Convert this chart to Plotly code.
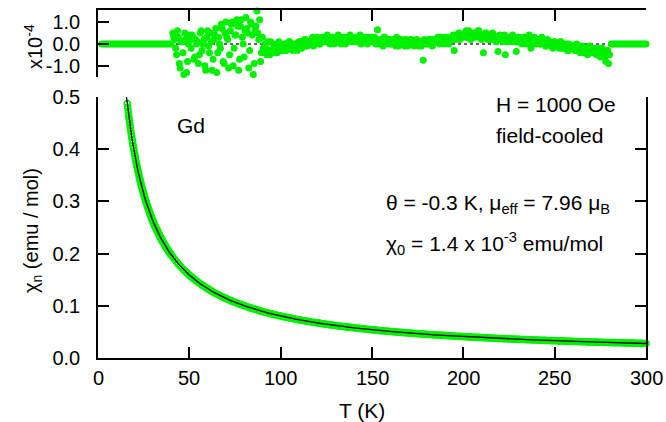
import numpy as np
import plotly.graph_objects as go

# ---- fit parameters (from the annotation) ----
theta = -0.3          # K
mu_eff = 7.96         # mu_B
chi0 = 1.4e-3         # emu/mol
C = mu_eff ** 2 / 7.997

# ---- axis ticks ----
x_ticks = [0, 50, 100, 150, 200, 250, 300]
x_ticklabels = ["0", "50", "100", "150", "200", "250", "300"]
y_ticks = [0, 0.1, 0.2, 0.3, 0.4, 0.5]
y_ticklabels = ["0.0", "0.1", "0.2", "0.3", "0.4", "0.5"]

# ---- residuals (x1e-4 emu/mol) ----
resid_T_low = list(range(2, 41))          # outside fit range -> 0
resid_low = [0.0] * len(resid_T_low)
resid_T_mid = list(range(41, 281))
resid_mid = [
    # 41-90
    0.5, 0.2, -0.5, 0.3, -1.1, 0.1, -1.4, 0.2, -0.8, 0.4,
    -0.2, 0.3, -0.6, 0.0, -0.9, 0.5, -0.3, 0.2, -1.2, 0.6,
    -0.4, 0.1, -0.7, 0.4, -1.3, 0.3, -0.2, 0.7, -0.9, 1.0,
    0.2, -0.5, 0.9, -1.0, 0.4, 1.1, -1.2, 0.8, 0.3, -0.6,
    1.2, 0.5, -0.3, 0.9, -1.4, 0.6, 1.5, 0.2, -0.8, 0.3,
    # 91-100
    -0.4, -0.2, 0.1, -0.5, -0.3, 0.0, -0.2, -0.4, 0.1, -0.3,
    # 101-150
    -0.2, 0.0, -0.3, -0.1, 0.1, -0.2, -0.1, 0.0, -0.3, 0.1,
    -0.1, 0.0, 0.2, -0.1, 0.1, 0.0, 0.2, -0.1, 0.1, 0.3,
    0.0, 0.2, 0.1, 0.3, 0.1, 0.2, 0.0, 0.3, 0.2, 0.1,
    0.3, 0.2, 0.0, 0.2, 0.3, 0.1, 0.2, 0.4, 0.1, 0.2,
    0.3, 0.1, 0.2, 0.0, 0.3, 0.2, 0.1, 0.3, 0.2, 0.1,
    # 151-200
    0.2, 0.0, 0.65, 0.1, 0.2, -0.1, 0.3, 0.1, 0.2, 0.0,
    0.1, 0.2, -0.1, 0.1, 0.0, 0.2, 0.1, -0.1, 0.1, 0.0,
    0.2, 0.1, -0.1, 0.1, 0.0, 0.1, -0.1, -0.75, 0.1, 0.0,
    0.2, 0.1, -0.1, 0.2, 0.1, 0.3, 0.0, 0.2, 0.1, 0.3,
    0.2, 0.0, 0.3, 0.2, -0.3, 0.4, 0.3, 0.2, 0.4, 0.3,
    # 201-250
    0.5, 0.3, 0.6, 0.2, 0.4, 0.5, 0.3, 0.6, 0.4, 0.2,
    -0.4, 0.5, 0.3, 0.4, 0.2, 0.5, 0.3, 0.1, -0.35, 0.4,
    0.2, 0.3, -0.5, 0.1, 0.3, 0.2, 0.4, 0.1, -0.35, 0.3,
    0.2, 0.0, 0.3, 0.2, 0.1, 0.4, -0.2, 0.2, 0.3, 0.1,
    0.2, 0.0, 0.3, 0.1, -0.1, 0.2, 0.0, 0.1, -0.2, 0.1,
    # 251-280
    0.0, -0.1, 0.1, -0.2, 0.0, -0.1, -0.3, 0.0, -0.2, -0.1,
    -0.3, 0.0, -0.2, -0.4, -0.1, -0.3, -0.2, -0.5, -0.1, -0.3,
    -0.4, -0.2, -0.5, -0.3, -0.6, -0.2, -0.4, -0.8, -0.3, -0.5,
]
# intermediate readings (half-kelvin points), 41.5 ... 279.5 K
resid_T_half = [41.5 + i for i in range(239)]
resid_half = [
    # 41.5-89.5
    0.3, -0.2, 0.6, -0.9, 0.1, -0.4, 0.5, -1.3, 0.0, 0.2,
    0.4, -0.7, 0.2, 0.1, -0.5, 0.6, 0.0, -1.0, 0.3, -0.1,
    0.5, -1.2, 0.2, 0.7, -0.4, 0.0, 0.9, -0.8, 0.5, 0.3,
    -1.1, 0.6, 1.0, -0.2, 0.4, 0.8, -0.7, 1.1, 0.0, 0.6,
    0.7, -1.1, 1.0, 0.4, -0.9, 0.8, 0.5, 1.1, -0.4,
    # 90.5-99.5
    -0.2, 0.0, -0.5, -0.3, 0.1, -0.4, -0.2, -0.1, -0.3, 0.0,
    # 100.5-279.5
    -0.1, -0.3, 0.0, -0.2, 0.1, -0.1, -0.3, 0.0, -0.2, 0.0,
    0.1, -0.2, 0.0, 0.2, -0.1, 0.1, 0.0, 0.3, 0.1, 0.2,
    0.2, 0.0, 0.3, 0.1, 0.2, 0.4, 0.1, 0.2, 0.3, 0.0,
    0.2, 0.4, 0.1, 0.3, 0.2, 0.0, 0.3, 0.2, 0.3, 0.1,
    0.2, 0.3, 0.1, 0.4, 0.2, 0.1, 0.3, 0.0, 0.2, 0.3,
    0.1, 0.3, 0.2, 0.0, 0.2, 0.1, 0.3, 0.0, 0.1, 0.2,
    0.0, 0.2, 0.1, 0.3, -0.1, 0.2, 0.0, 0.1, 0.2, -0.1,
    0.1, 0.2, 0.0, 0.1, 0.2, -0.1, 0.1, 0.0, 0.2, 0.1,
    0.0, 0.1, 0.2, 0.0, 0.1, 0.2, 0.1, 0.3, 0.2, 0.0,
    0.2, 0.3, 0.1, 0.3, 0.4, 0.2, 0.3, 0.5, 0.3, 0.4,
    0.4, 0.6, 0.3, 0.5, 0.4, 0.3, 0.5, 0.4, 0.6, 0.3,
    0.4, 0.3, 0.5, 0.2, 0.4, 0.3, 0.4, 0.2, 0.3, 0.2,
    0.3, 0.1, 0.4, 0.2, 0.2, 0.3, 0.1, 0.3, 0.2, 0.1,
    0.3, 0.1, 0.2, 0.3, 0.0, 0.2, 0.3, 0.1, 0.2, 0.0,
    0.1, 0.2, 0.0, 0.2, 0.1, -0.1, 0.1, 0.0, -0.1, 0.1,
    -0.1, 0.0, -0.2, 0.1, -0.1, -0.2, 0.0, -0.3, -0.1, -0.2,
    -0.1, -0.3, -0.2, -0.1, -0.3, -0.2, -0.4, -0.2, -0.3, -0.4,
    -0.2, -0.4, -0.3, -0.5, -0.2, -0.4, -0.3, -0.6, -0.4, -0.9,
]
resid_T_high = list(range(281, 301))
resid_high = [0.0] * len(resid_T_high)

resid_T = resid_T_low + resid_T_mid + resid_T_half + resid_T_high
resid = resid_low + resid_mid + resid_half + resid_high
resid_lookup = dict(zip(resid_T_low + resid_T_mid + resid_T_high, resid_low + resid_mid + resid_high))

# ---- measured temperatures (main panel) ----
T_meas = np.concatenate([np.arange(16.0, 40.0, 0.25), np.arange(40.0, 301.0, 1.0)])


def curie_weiss(T):
    return C / (np.asarray(T) - theta) + chi0


# measured chi = fit + residual (residual shown x1e-4 in the top panel)
chi_meas = curie_weiss(T_meas) + np.array([resid_lookup.get(int(t), 0.0) if float(t).is_integer() else 0.0
                                            for t in T_meas]) * 1e-4

T_fit = np.linspace(15.5, 300, 600)
chi_fit = curie_weiss(T_fit)

GREEN = "#00f000"
FONT = "Liberation Sans, Arial, sans-serif"
TICK = 20
ANN = 21

fig = go.Figure()

# top panel: zero reference + residuals
fig.add_trace(go.Scatter(x=[0, 300], y=[0, 0], mode="lines", xaxis="x2", yaxis="y2",
                         line=dict(color="#333333", width=1.5, dash="dot"), showlegend=False))
fig.add_trace(go.Scatter(x=resid_T, y=resid, mode="markers", xaxis="x2", yaxis="y2",
                         marker=dict(color=GREEN, size=7, line=dict(width=0)),
                         cliponaxis=False, showlegend=False))

# main panel
fig.add_trace(go.Scatter(x=T_meas, y=chi_meas, mode="markers", xaxis="x", yaxis="y",
                         marker=dict(symbol="circle-open", color=GREEN, size=6,
                                     line=dict(color=GREEN, width=1.6)),
                         cliponaxis=False, showlegend=False))
fig.add_trace(go.Scatter(x=T_fit, y=chi_fit, mode="lines", xaxis="x", yaxis="y",
                         line=dict(color="black", width=1.3), showlegend=False))

axis_common = dict(showgrid=False, zeroline=False, showline=True, linecolor="black",
                   linewidth=1.5, ticks="inside", tickcolor="black", tickwidth=1.5, ticklen=11,
                   automargin=False,
                   tickfont=dict(family=FONT, size=TICK, color="black"))

fig.update_layout(
    width=666, height=422,
    margin=dict(l=98, r=20, t=10, b=64, autoexpand=False),
    paper_bgcolor="white", plot_bgcolor="white",
    font=dict(family=FONT, color="black", size=TICK),
    xaxis=dict(axis_common, domain=[0, 1], range=[0, 300], tickvals=x_ticks,
               showticklabels=False, anchor="y"),
    yaxis=dict(axis_common, domain=[0, 0.75], range=[0, 0.5],
               tickvals=y_ticks, ticktext=y_ticklabels,
               mirror="ticks", anchor="x", ticklabelstandoff=12),
    xaxis2=dict(axis_common, domain=[0, 1], range=[0, 300], side="top", anchor="y2",
                tickvals=x_ticks[1:-1], showticklabels=False),
    yaxis2=dict(axis_common, domain=[0.8075, 1.0], range=[-1.51, 1.545], anchor="x2",
                tickvals=[-1.5, -1, 0, 1], ticktext=["", "-1.0", "0.0", "1.0"],
                ticklabelstandoff=12),
    yaxis3=dict(axis_common, domain=[0.8075, 1.0], range=[-1.51, 1.545], anchor="x2",
                overlaying="y2", side="right",
                tickvals=[-1.5, -1, -0.5, 0, 0.5, 1, 1.5], showticklabels=False),
)


def px(xp):
    return (xp - 98) / 548


def py(yp):
    return (358 - yp) / 348


ann_font = dict(family=FONT, size=ANN, color="black")
annotations = [
    dict(text="Gd", x=px(175), y=py(125), xanchor="left"),
    dict(text="H = 1000 Oe", x=px(494), y=py(105), xanchor="left"),
    dict(text="field-cooled", x=px(494), y=py(135), xanchor="left"),
    dict(text="θ = -0.3 K, μ<sub>eff</sub> = 7.96 μ<sub>B</sub>", x=px(384), y=py(204), xanchor="left"),
    dict(text="χ<sub>0</sub> = 1.4 x 10<sup>-3</sup> emu/mol", x=px(384), y=py(243), xanchor="left"),
    dict(text="T (K)", x=px(362), y=py(410), xanchor="center"),
    dict(text="χ<sub>n</sub> (emu / mol)", x=px(33), y=py(231), xanchor="center", textangle=-90,
         font=dict(family=FONT, size=20, color="black")),
    dict(text="x10<sup>-4</sup>", x=px(33), y=py(47), xanchor="center", textangle=-90,
         font=dict(family=FONT, size=20, color="black")),
]
anns = []
for a in annotations:
    base = dict(xref="paper", yref="paper", yanchor="middle", showarrow=False, font=ann_font)
    base.update(a)
    anns.append(base)

# x tick labels of the main panel (placed just under the axis)
for v, lab in zip(x_ticks, x_ticklabels):
    anns.append(dict(text=lab, x=v, xref="x", y=0, yref="paper", yanchor="top", xanchor="center",
                     yshift=-7, showarrow=False, font=dict(family=FONT, size=TICK, color="black")))

fig.update_layout(annotations=anns)

fig.write_html("out.html")
